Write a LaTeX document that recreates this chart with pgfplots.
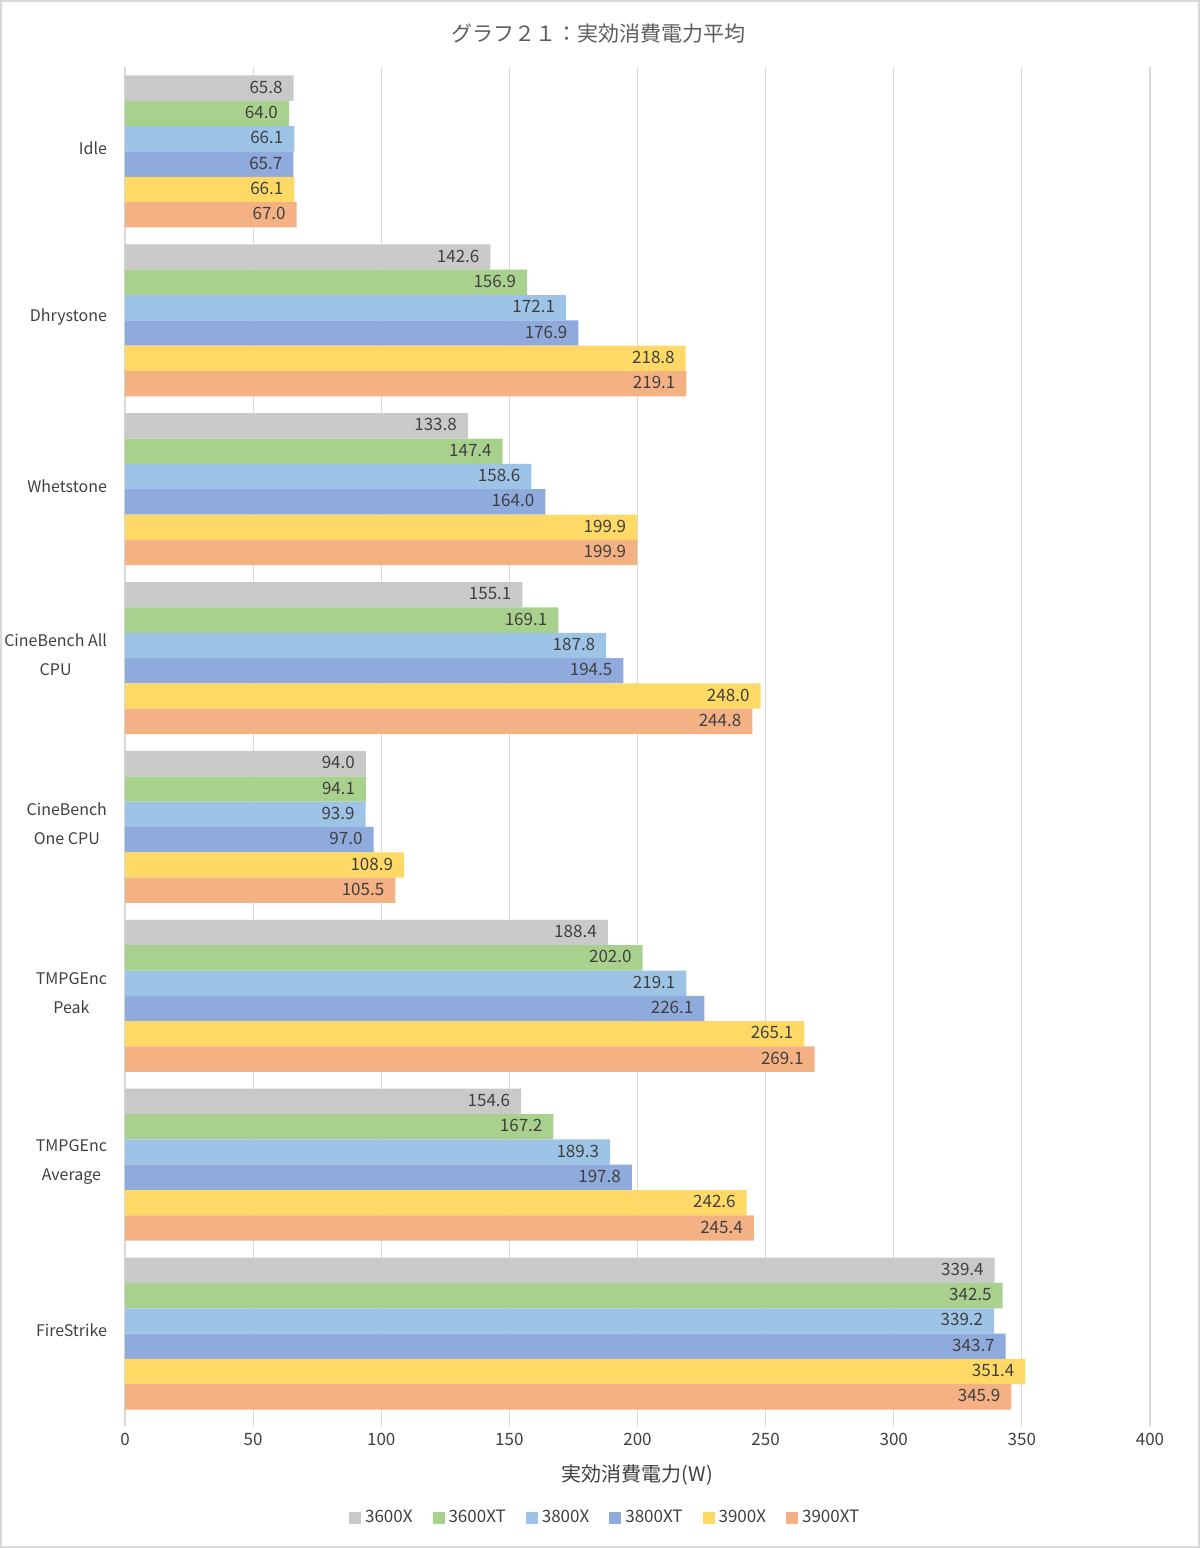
\documentclass[border=0pt]{standalone}
\usepackage{pgfplots}
\pgfplotsset{compat=1.18}
\usepackage{fontspec}
\setmainfont{Noto Sans CJK JP}
\definecolor{cA}{HTML}{C9C9C9}
\definecolor{cB}{HTML}{A9D18E}
\definecolor{cC}{HTML}{9DC3E6}
\definecolor{cD}{HTML}{8FAADC}
\definecolor{cE}{HTML}{FFD966}
\definecolor{cF}{HTML}{F4B183}
\definecolor{txt}{HTML}{404040}
\definecolor{grd}{HTML}{D9D9D9}
\begin{document}
\begin{tikzpicture}
\useasboundingbox (0,0) rectangle (600pt,774pt);
\draw[color=grd,line width=0.8pt] (0.5pt,0.5pt) rectangle (599.5pt,773.5pt);
\node[text=txt!85,font=\fontsize{10.5}{12}\selectfont] at (299pt,757pt) {グラフ２１：実効消費電力平均};
\begin{axis}[
  at={(62.5pt,65pt)}, anchor=south west,
  scale only axis, width=512.5pt, height=675.5pt,
  xbar, bar width=0.15,
  y dir=reverse,
  xmin=0, xmax=400, ymin=-0.5, ymax=7.5,
  enlarge y limits=false,
  xtick={0,50,...,400},
  ytick={0,...,7},
  yticklabels={Idle,Dhrystone,Whetstone,{CineBench All\\CPU},{CineBench\\One CPU},{TMPGEnc\\Peak},{TMPGEnc\\Average},FireStrike},
  yticklabel style={align=center,font=\fontsize{8}{14.5}\selectfont,text=txt,xshift=-1.5pt,yshift=1.5pt},
  xticklabel style={font=\fontsize{8.5}{10}\selectfont,text=txt},
  /pgf/number format/assume math mode=true,
  xmajorgrids=true, ymajorgrids=false,
  major grid style={color=grd,line width=0.6pt},
  axis x line*=bottom, axis y line*=left,
  axis line style={draw=none},
  tick align=outside, major tick length=4pt,
  xtick style={color=grd,line width=0.6pt},
  ytick style={draw=none},
  xlabel={実効消費電力(W)},
  xlabel style={at={(axis description cs:0.5,-0.0425)},anchor=center,font=\fontsize{10}{12}\selectfont,text=txt},
  nodes near coords={\pgfmathprintnumber[fixed,fixed zerofill,precision=1]{\pgfplotspointmeta}},
  every node near coord/.append style={anchor=east,xshift=-2pt,yshift=0.5pt,font=\fontsize{8.5}{10}\selectfont,text=txt},
  legend columns=6,
  legend style={at={(axis description cs:0.4695,-0.0738)},anchor=center,draw=none,fill=none,
    font=\fontsize{8.5}{10}\selectfont,text=txt,/tikz/every even column/.append style={column sep=8pt}},
  legend image code/.code={\fill[#1,draw=none] (0pt,-3pt) rectangle (6pt,3pt);},
]
\addplot[fill=cA,draw=none,bar shift=-0.375] coordinates {(65.8,0) (142.6,1) (133.8,2) (155.1,3) (94.0,4) (188.4,5) (154.6,6) (339.4,7)};
\addplot[fill=cB,draw=none,bar shift=-0.225] coordinates {(64.0,0) (156.9,1) (147.4,2) (169.1,3) (94.1,4) (202.0,5) (167.2,6) (342.5,7)};
\addplot[fill=cC,draw=none,bar shift=-0.075] coordinates {(66.1,0) (172.1,1) (158.6,2) (187.8,3) (93.9,4) (219.1,5) (189.3,6) (339.2,7)};
\addplot[fill=cD,draw=none,bar shift=0.075] coordinates {(65.7,0) (176.9,1) (164.0,2) (194.5,3) (97.0,4) (226.1,5) (197.8,6) (343.7,7)};
\addplot[fill=cE,draw=none,bar shift=0.225] coordinates {(66.1,0) (218.8,1) (199.9,2) (248.0,3) (108.9,4) (265.1,5) (242.6,6) (351.4,7)};
\addplot[fill=cF,draw=none,bar shift=0.375] coordinates {(67.0,0) (219.1,1) (199.9,2) (244.8,3) (105.5,4) (269.1,5) (245.4,6) (345.9,7)};
\legend{3600X,3600XT,3800X,3800XT,3900X,3900XT}
\end{axis}
\end{tikzpicture}
\end{document}
